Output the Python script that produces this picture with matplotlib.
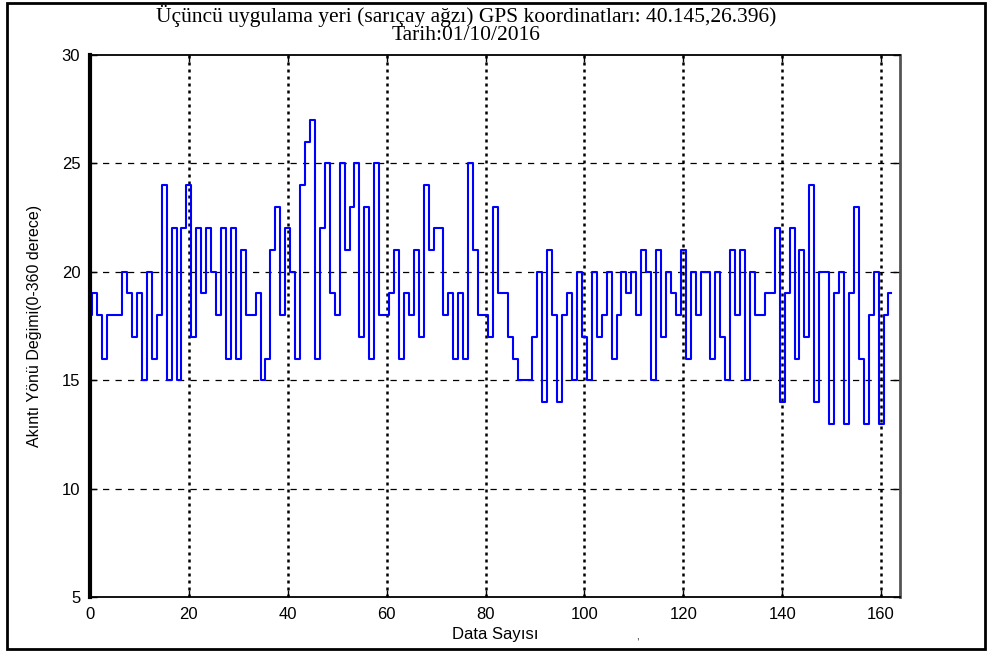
import matplotlib
matplotlib.use("Agg")
import matplotlib.pyplot as plt
from matplotlib.patches import Rectangle
import numpy as np

title_line1 = "Üçüncü uygulama yeri (sarıçay ağzı) GPS koordinatları: 40.145,26.396)"
title_line2 = "Tarih:01/10/2016"
x_label = "Data Sayısı"
y_label = "Akıntı Yönü Değimi(0-360 derece)"

values_0_20 = [18, 19, 18, 16, 18, 18, 18, 20, 19, 17, 19, 15, 20, 16, 18, 24, 15, 22, 15, 22, 24]
values_21_40 = [17, 22, 19, 22, 20, 18, 22, 16, 22, 16, 21, 18, 18, 19, 15, 16, 21, 23, 18, 22]
values_41_60 = [20, 16, 24, 26, 27, 16, 22, 25, 19, 18, 25, 21, 23, 25, 17, 23, 16, 25, 18, 18]
values_61_80 = [19, 21, 16, 19, 18, 21, 17, 24, 21, 22, 22, 18, 19, 16, 19, 16, 25, 21, 18, 18]
values_81_100 = [17, 23, 19, 19, 17, 16, 15, 15, 15, 17, 20, 14, 21, 18, 14, 18, 19, 15, 20, 17]
values_101_120 = [15, 20, 17, 18, 20, 16, 18, 20, 19, 20, 18, 21, 20, 15, 21, 17, 20, 19, 18, 21]
values_121_140 = [16, 20, 18, 20, 20, 16, 20, 17, 15, 21, 18, 21, 15, 20, 18, 18, 19, 19, 22, 14]
values_141_162 = [19, 22, 16, 21, 17, 24, 14, 20, 20, 13, 19, 20, 13, 19, 23, 16, 13, 18, 20, 13, 18, 19]

values = (values_0_20 + values_21_40 + values_41_60 + values_61_80 +
          values_81_100 + values_101_120 + values_121_140 + values_141_162)
data_index = np.arange(len(values))

x_ticks = [0, 20, 40, 60, 80, 100, 120, 140, 160]
y_ticks = [5, 10, 15, 20, 25, 30]

fig = plt.figure(figsize=(9.91, 6.52), dpi=100)
ax = fig.add_axes([0.0908, 0.0844, 0.8172, 0.8312])

ax.plot(data_index, values, color=(0, 0, 1), linewidth=1.5, drawstyle="steps-mid")

ax.set_xlim(0, 163.8)
ax.set_ylim(5, 30)
ax.set_xticks(x_ticks)
ax.set_yticks(y_ticks)

for y in [10, 15, 20, 25]:
    ax.axhline(y, color="black", linestyle=(0, (5, 5)), linewidth=0.9, zorder=0)
for x in x_ticks[1:]:
    ax.axvline(x, color="black", linestyle=(0, (1.2, 1.6)), linewidth=1.8, zorder=0)

ax.tick_params(direction="in", top=True, right=True, length=5, width=1,
               labelsize=12, pad=7)
for lab in ax.get_xticklabels() + ax.get_yticklabels():
    lab.set_fontfamily("Liberation Sans")

for side in ["top", "bottom", "right"]:
    ax.spines[side].set_linewidth(1.3)
ax.spines["left"].set_linewidth(3)
ax.spines["right"].set_color("#555555")
ax.spines["right"].set_linewidth(2)

ax.set_xlabel(x_label, fontsize=12, family="Liberation Sans", labelpad=4)
ax.set_ylabel(y_label, fontsize=11.5, family="Liberation Sans", labelpad=14)

fig.text(0.47, 0.976, title_line1, ha="center", va="center",
         fontsize=15.5, family="Liberation Serif")
fig.text(0.47, 0.946, title_line2, ha="center", va="center",
         fontsize=15.5, family="Liberation Serif")
fig.text(0.643, 0.024, ",", ha="center", va="center", fontsize=7,
         family="Liberation Sans")

fig.patches.append(Rectangle((0.007, 0.005), 0.987, 0.99, transform=fig.transFigure,
                             fill=False, edgecolor="black", linewidth=2))

fig.savefig("out.png", dpi=100)
